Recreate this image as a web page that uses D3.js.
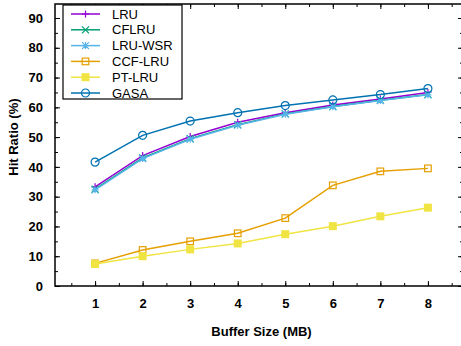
<!DOCTYPE html>
<html>
<head>
<meta charset="utf-8">
<script src="https://cdn.jsdelivr.net/npm/d3@7"></script>
<style>
  body { margin: 0; background: #fff; overflow: hidden; }
  svg text { font-family: "Liberation Sans", Arial, sans-serif; }
  .tick-label { font-weight: bold; font-size: 13px; }
  .axis-title { font-weight: bold; font-size: 13px; }
  .legend text { font-size: 13px; }
</style>
</head>
<body>
<div id="chart"></div>
<script>
const buffers = [1, 2, 3, 4, 5, 6, 7, 8];
const yTicks = [0, 10, 20, 30, 40, 50, 60, 70, 80, 90];

const lru     = [33.3, 43.8, 50.2, 55.0, 58.2, 60.8, 62.8, 65.0];
const cflru   = [32.5, 43.0, 49.5, 54.2, 57.8, 60.3, 62.4, 64.3];
const lruWsr  = [32.3, 42.8, 49.3, 54.0, 57.7, 60.2, 62.3, 64.2];
const ccfLru  = [7.6, 12.1, 15.0, 17.7, 22.8, 33.8, 38.5, 39.5];
const ptLru   = [7.4, 10.0, 12.3, 14.3, 17.4, 20.1, 23.4, 26.3];
const gasa    = [41.6, 50.6, 55.4, 58.2, 60.6, 62.5, 64.3, 66.3];

const series = [
  { name: 'LRU', values: lru, color: '#9400d3', marker: 'plus' },
  { name: 'CFLRU', values: cflru, color: '#009e73', marker: 'cross' },
  { name: 'LRU-WSR', values: lruWsr, color: '#56b4e9', marker: 'star' },
  { name: 'CCF-LRU', values: ccfLru, color: '#e69f00', marker: 'square' },
  { name: 'PT-LRU', values: ptLru, color: '#f0e442', marker: 'fsquare' },
  { name: 'GASA', values: gasa, color: '#0072b2', marker: 'circle' },
];

const width = 461, height = 346;
// plot box runs a little past the right edge of the picture, as in the original
const margin = { top: 4, right: -2, bottom: 60, left: 55 };
const w = width - margin.left - margin.right;
const h = height - margin.top - margin.bottom;

const svg = d3.select('#chart').append('svg').attr('width', width).attr('height', height);
const g = svg.append('g').attr('transform', `translate(${margin.left},${margin.top})`);

const x = d3.scaleLinear().domain([0.157, 8.738]).range([0, w]);
const y = d3.scaleLinear().domain([0, 94.7]).range([h, 0]);

// minor/major ticks on all four sides, pointing inward
const xMinor = d3.range(0.5, 8.7, 0.5);
const yMinor = d3.range(5, 94, 5);

g.append('g').attr('transform', `translate(0,${h})`)
  .call(d3.axisBottom(x).tickValues(xMinor).tickSize(-3).tickFormat(''))
  .call(a => a.select('.domain').remove());
g.append('g')
  .call(d3.axisTop(x).tickValues(xMinor).tickSize(-3).tickFormat(''))
  .call(a => a.select('.domain').remove());
g.append('g')
  .call(d3.axisLeft(y).tickValues(yMinor).tickSize(-3).tickFormat(''))
  .call(a => a.select('.domain').remove());
g.append('g').attr('transform', `translate(${w},0)`)
  .call(d3.axisRight(y).tickValues(yMinor).tickSize(-3).tickFormat(''))
  .call(a => a.select('.domain').remove());

const xb = g.append('g').attr('transform', `translate(0,${h})`)
  .call(d3.axisBottom(x).tickValues(buffers).tickSize(-5).tickPadding(13).tickFormat(d3.format('d')));
xb.select('.domain').remove();
xb.selectAll('text').attr('class', 'tick-label').attr('fill', '#000');

const yl = g.append('g')
  .call(d3.axisLeft(y).tickValues(yTicks).tickSize(-5).tickPadding(12).tickFormat(d3.format('d')));
yl.select('.domain').remove();
yl.selectAll('text').attr('class', 'tick-label').attr('fill', '#000');

g.append('g').call(d3.axisTop(x).tickValues(buffers).tickSize(-5).tickFormat(''))
  .call(a => a.select('.domain').remove());
g.append('g').attr('transform', `translate(${w},0)`)
  .call(d3.axisRight(y).tickValues(yTicks).tickSize(-5).tickFormat(''))
  .call(a => a.select('.domain').remove());

g.selectAll('.tick line').attr('stroke', '#000').attr('stroke-width', 1);

// frame
g.append('rect').attr('width', w).attr('height', h)
  .attr('fill', 'none').attr('stroke', '#000').attr('stroke-width', 1.5);

// axis titles
svg.append('text').attr('class', 'axis-title')
  .attr('x', margin.left + x(4.5)).attr('y', 336).attr('text-anchor', 'middle')
  .text('Buffer Size (MB)');
svg.append('text').attr('class', 'axis-title')
  .attr('transform', `translate(18,${margin.top + y(50)}) rotate(-90)`)
  .attr('text-anchor', 'middle')
  .text('Hit Ratio (%)');

function drawMarker(sel, type, color) {
  const s = 3.5;
  if (type === 'plus') {
    sel.append('path').attr('d', `M${-s},0H${s}M0,${-s}V${s}`).attr('stroke', color).attr('stroke-width', 1.2);
  } else if (type === 'cross') {
    sel.append('path').attr('d', `M${-s},${-s}L${s},${s}M${-s},${s}L${s},${-s}`).attr('stroke', color).attr('stroke-width', 1.2);
  } else if (type === 'star') {
    sel.append('path').attr('d', `M${-s},0H${s}M0,${-s}V${s}M${-s},${-s}L${s},${s}M${-s},${s}L${s},${-s}`).attr('stroke', color).attr('stroke-width', 1.2);
  } else if (type === 'square') {
    sel.append('rect').attr('x', -3.3).attr('y', -3.3).attr('width', 6.6).attr('height', 6.6)
      .attr('fill', 'none').attr('stroke', color).attr('stroke-width', 1.2);
  } else if (type === 'fsquare') {
    sel.append('rect').attr('x', -4).attr('y', -4).attr('width', 8).attr('height', 8).attr('fill', color);
  } else if (type === 'circle') {
    sel.append('circle').attr('r', 4).attr('fill', 'none').attr('stroke', color).attr('stroke-width', 1.2);
  }
}

const line = d3.line().x((d, i) => x(buffers[i])).y(d => y(d));

series.forEach(s => {
  g.append('path').datum(s.values).attr('d', line)
    .attr('fill', 'none').attr('stroke', s.color).attr('stroke-width', 1.5);
  s.values.forEach((v, i) => {
    const m = g.append('g').attr('transform', `translate(${x(buffers[i])},${y(v)})`);
    drawMarker(m, s.marker, s.color);
  });
});

// legend
const legend = svg.append('g').attr('class', 'legend').attr('transform', 'translate(63,5)');
legend.append('rect').attr('width', 119).attr('height', 94)
  .attr('fill', '#fff').attr('stroke', '#000').attr('stroke-width', 1.2);
series.forEach((s, i) => {
  const it = legend.append('g').attr('transform', `translate(0,${9 + i * 15.8})`);
  it.append('line').attr('x1', 8).attr('x2', 37).attr('stroke', s.color).attr('stroke-width', 1.5);
  drawMarker(it.append('g').attr('transform', 'translate(22.5,0)'), s.marker, s.color);
  it.append('text').attr('x', 49).attr('y', 0).attr('dy', '0.35em').text(s.name);
});
</script>
</body>
</html>
